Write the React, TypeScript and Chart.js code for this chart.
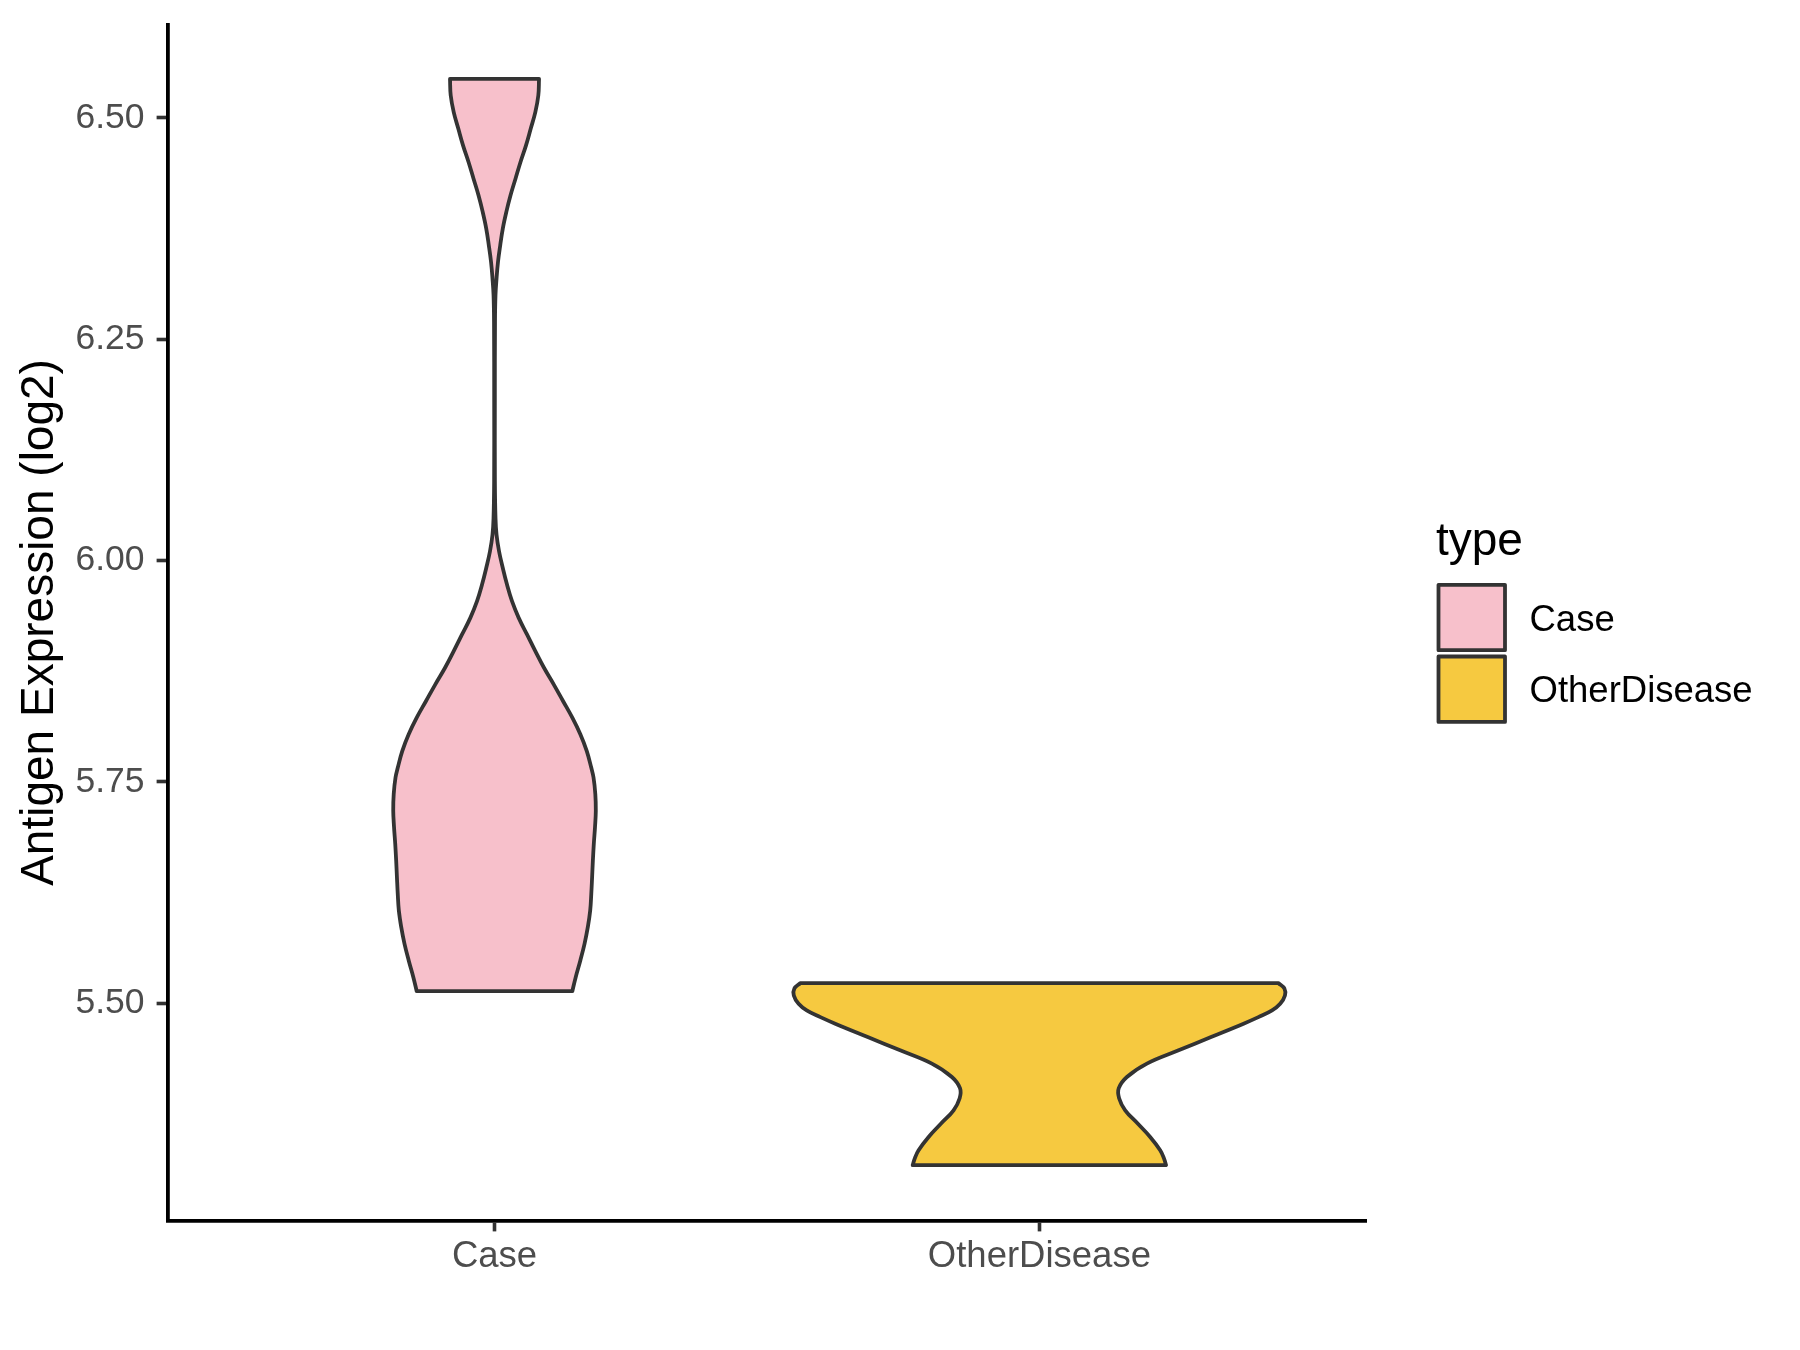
import { useEffect, useRef } from "react";
import { Chart, registerables } from "chart.js";

Chart.register(...registerables);

const FONT = "'Liberation Sans', Arial, Helvetica, sans-serif";

// Categories and colours
const categories = ["Case", "OtherDisease"];
const categoryColors = ["#F7C0CB", "#F6C940"];
const legendTitle = "type";
const yAxisTitle = "Antigen Expression (log2)";

// Axis ranges and ticks
const xRange = [0.4, 2.6];
const xTickValues = [1, 2];
const yRange = [5.2546, 6.6054];
const yTickValues = [5.5, 5.75, 6.0, 6.25, 6.5];

// Violin density profile for "Case" (value, half-width in category units)
const caseValues = [
  6.544, 6.5253, 6.5064, 6.4876, 6.4689, 6.4501, 6.4312, 6.4125, 6.3937, 6.3749,
  6.3561, 6.3373, 6.3185, 6.2998, 6.2697, 6.1795, 6.0893, 6.0479, 6.0292, 6.0104,
  5.9915, 5.9728, 5.954, 5.9352, 5.9165, 5.8976, 5.8788, 5.8601, 5.8413, 5.8224,
  5.8037, 5.7849, 5.7661, 5.7548, 5.7361, 5.7173, 5.6985, 5.6797, 5.6609, 5.6421,
  5.6234, 5.6046, 5.5858, 5.567, 5.5482, 5.5293, 5.5135,
];
const caseHalfWidths = [
  0.0817, 0.0804, 0.0749, 0.0664, 0.0578, 0.0477, 0.0385, 0.0294, 0.0217, 0.0152,
  0.0105, 0.0064, 0.0037, 0.0018, 0.0009, 0.0006, 0.0007, 0.0018, 0.0037, 0.0083,
  0.0152, 0.0229, 0.0321, 0.0444, 0.0596, 0.0749, 0.0908, 0.1086, 0.1257, 0.1428,
  0.1575, 0.1692, 0.1775, 0.1817, 0.185, 0.1859, 0.1844, 0.1822, 0.1805, 0.1791,
  0.1776, 0.1756, 0.1712, 0.1652, 0.1575, 0.149, 0.1428,
];

// Violin density profile for "OtherDisease"
const otherValues = [
  5.5225, 5.5166, 5.5087, 5.4993, 5.4918, 5.4842, 5.4768, 5.4617, 5.4467, 5.4317,
  5.4166, 5.4039, 5.3926, 5.379, 5.364, 5.3489, 5.3339, 5.3249, 5.317,
];
const otherHalfWidths = [
  0.439, 0.4496, 0.4507, 0.4419, 0.427, 0.4019, 0.3747, 0.3151, 0.2555, 0.1973,
  0.1606, 0.1457, 0.1463, 0.1575, 0.1804, 0.2033, 0.2217, 0.2285, 0.2325,
];

// Closed outline: right side top->bottom, left side bottom->top.
// Corner points are repeated so that the smoothed curve keeps sharp corners
// at the flat top and bottom of the violin.
function violinOutline(center: number, values: number[], halfWidths: number[]) {
  const right = values.map((v, i) => ({ x: center + halfWidths[i], y: v }));
  const left = values.map((v, i) => ({ x: center - halfWidths[i], y: v })).reverse();
  const n = right.length - 1;
  return [...right, right[n], left[0], ...left, left[n], right[0]];
}

export default function App() {
  const ref = useRef<HTMLCanvasElement>(null);

  useEffect(() => {
    const violinFill = {
      id: "violinFill",
      beforeDatasetDraw(chart: any, args: any) {
        const ds: any = chart.data.datasets[args.index];
        const line = args.meta.dataset;
        if (!line || !line.points || !line.points.length) return;
        const ctx = chart.ctx;
        if (typeof line.updateControlPoints === "function") {
          line.updateControlPoints(chart.chartArea, "x");
        }
        ctx.save();
        ctx.beginPath();
        line.path(ctx);
        ctx.closePath();
        ctx.fillStyle = ds.fillColor;
        ctx.fill();
        ctx.restore();
      },
    };

    const ggLegend = {
      id: "ggLegend",
      afterDraw(chart: any) {
        const ctx = chart.ctx;
        ctx.save();
        ctx.fillStyle = "#000000";
        ctx.textAlign = "left";
        ctx.textBaseline = "alphabetic";
        ctx.font = `46px ${FONT}`;
        ctx.fillText(legendTitle, 1436, 555);
        const boxX = 1438.5;
        const boxW = 66.5;
        const boxTops = [584.8, 656.5];
        const boxH = 65.4;
        categories.forEach((c, i) => {
          ctx.fillStyle = categoryColors[i];
          ctx.fillRect(boxX, boxTops[i], boxW, boxH);
          ctx.strokeStyle = "#333333";
          ctx.lineWidth = 3.8;
          ctx.lineJoin = "round";
          ctx.strokeRect(boxX, boxTops[i], boxW, boxH);
          ctx.fillStyle = "#000000";
          ctx.font = `36.5px ${FONT}`;
          ctx.fillText(c, 1529.5, boxTops[i] + boxH / 2 + 13);
        });
        ctx.restore();
      },
    };

    const datasets = [
      {
        label: categories[0],
        data: violinOutline(1, caseValues, caseHalfWidths),
        fillColor: categoryColors[0],
      },
      {
        label: categories[1],
        data: violinOutline(2, otherValues, otherHalfWidths),
        fillColor: categoryColors[1],
      },
    ].map((d) => ({
      ...d,
      showLine: true,
      fill: false,
      borderColor: "#333333",
      backgroundColor: d.fillColor,
      borderWidth: 3.8,
      borderJoinStyle: "round" as const,
      borderCapStyle: "round" as const,
      pointRadius: 0,
      pointHoverRadius: 0,
      tension: 0.4,
    }));

    const gridOpts = {
      display: true,
      drawOnChartArea: false,
      drawTicks: true,
      tickLength: 11,
      tickWidth: 3.6,
      tickColor: "#333333",
    };
    const borderOpts = { display: true, color: "#000000", width: 3.8 };

    const chart = new Chart(ref.current as HTMLCanvasElement, {
      type: "scatter",
      data: { datasets: datasets as any },
      plugins: [violinFill, ggLegend],
      options: {
        animation: false,
        responsive: false,
        devicePixelRatio: 1,
        events: [],
        layout: { padding: { left: 0, top: 24.5, right: 433.7, bottom: 0 } },
        plugins: { legend: { display: false }, tooltip: { enabled: false } },
        scales: {
          x: {
            type: "linear",
            position: "bottom",
            min: xRange[0],
            max: xRange[1],
            afterBuildTicks: (s: any) => {
              s.ticks = xTickValues.map((v) => ({ value: v }));
            },
            afterFit: (s: any) => {
              s.height = 129.6;
              s.paddingLeft = 0;
              s.paddingRight = 0;
            },
            ticks: {
              callback: (v: any) => categories[Math.round(Number(v)) - 1],
              font: { family: FONT, size: 36.5 },
              color: "#4D4D4D",
              padding: 4,
              autoSkip: false,
              maxRotation: 0,
            },
            grid: gridOpts,
            border: borderOpts,
          },
          y: {
            type: "linear",
            position: "left",
            min: yRange[0],
            max: yRange[1],
            afterBuildTicks: (s: any) => {
              s.ticks = yTickValues.map((v) => ({ value: v }));
            },
            afterFit: (s: any) => {
              s.width = 167.6;
              s.paddingTop = 0;
              s.paddingBottom = 0;
            },
            ticks: {
              callback: (v: any) => Number(v).toFixed(2),
              font: { family: FONT, size: 35.5 },
              color: "#4D4D4D",
              padding: 12,
              autoSkip: false,
            },
            grid: gridOpts,
            border: borderOpts,
            title: {
              display: true,
              text: yAxisTitle,
              color: "#000000",
              font: { family: FONT, size: 46 },
              padding: { top: 13, bottom: 0 },
            },
          },
        },
      } as any,
    });
    return () => chart.destroy();
  }, []);

  return (
    <div
      style={{
        position: "fixed",
        left: 0,
        top: 0,
        width: 1800,
        height: 1350,
        background: "#ffffff",
      }}
    >
      <canvas ref={ref} width={1800} height={1350} style={{ display: "block" }} />
    </div>
  );
}
